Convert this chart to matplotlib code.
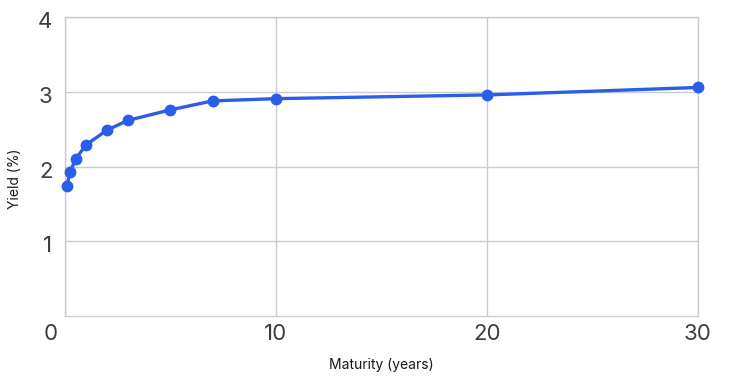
import matplotlib
matplotlib.use("Agg")
import matplotlib.pyplot as plt
import matplotlib.transforms as mtransforms

# maturity in years, yield in percent
maturity = [1 / 12, 0.25, 0.5, 1, 2, 3, 5, 7, 10, 20, 30]
yields = [1.74, 1.93, 2.10, 2.29, 2.49, 2.62, 2.76, 2.88, 2.91, 2.96, 3.06]

x_ticks = [0, 10, 20, 30]
y_ticks = [1, 2, 3, 4]

plt.rcParams['font.family'] = ['Inter', 'DejaVu Sans']

blue = '#2a5ee8'
grid = '#c9cdd3'
text = '#3a3d42'

fig = plt.figure(figsize=(7.30, 3.78), dpi=100)
ax = fig.add_axes([0.089, 0.165, 0.867, 0.789])

ax.plot(maturity, yields, color=blue, lw=2.4, marker='o', ms=7.5,
        clip_on=False, zorder=3)

ax.set_xlim(0, 30)
ax.set_ylim(0, 4)
ax.set_xticks(x_ticks)
ax.set_yticks(y_ticks)
ax.grid(True, color=grid, lw=1)
ax.set_axisbelow(True)
for s in ax.spines.values():
    s.set_color(grid)
    s.set_linewidth(1)

ax.tick_params(length=0, labelsize=16, labelcolor=text, pad=6)
ax.tick_params(axis='y', pad=9)

# shift the y labels slightly down, and the 0 label left
for lab in ax.get_yticklabels():
    lab.set_transform(lab.get_transform() + mtransforms.ScaledTranslation(0, -0.03, fig.dpi_scale_trans))
ax.get_xticklabels()[0].set_transform(
    ax.get_xticklabels()[0].get_transform() + mtransforms.ScaledTranslation(-0.14, 0, fig.dpi_scale_trans))

ax.set_xlabel('Maturity (years)', fontsize=10, color='#1a1a1a', labelpad=10)
ax.set_ylabel('Yield (%)', fontsize=10, color='#1a1a1a')
ax.yaxis.set_label_coords(-0.068, 0.458)

fig.savefig('out.png', dpi=100)
